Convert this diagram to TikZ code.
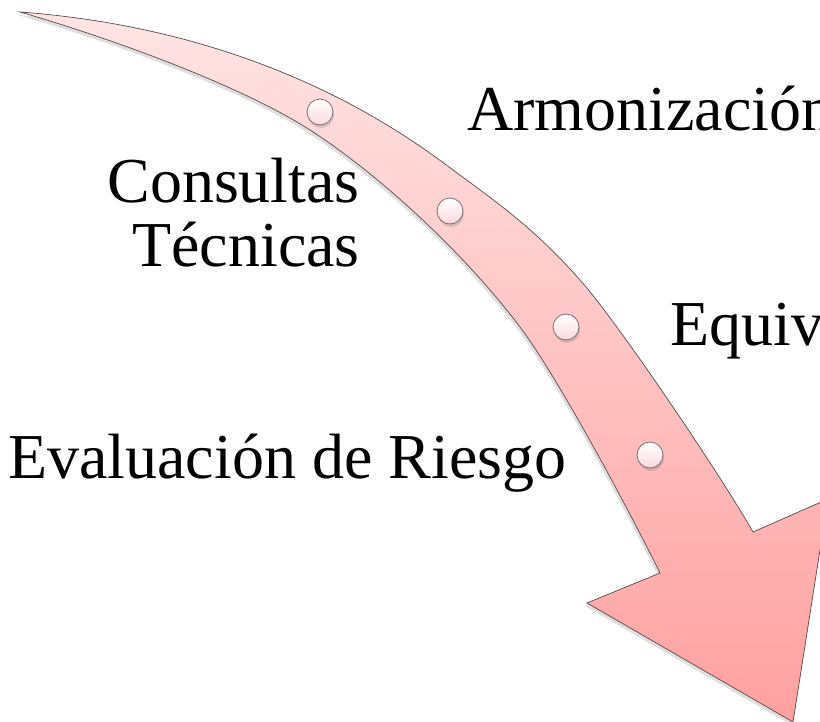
\documentclass[tikz,border=0pt]{standalone}
\usepackage{fontspec}
\setmainfont{Liberation Serif}
\usetikzlibrary{shadows}
\definecolor{arrtop}{HTML}{FFE4E4}
\definecolor{arrbot}{HTML}{FFA0A0}
\definecolor{edgegrey}{HTML}{5A4A4A}
\definecolor{dotbot}{HTML}{FBD9DE}
\tikzset{
  arrowshape/.style={draw=edgegrey, line width=0.7pt, top color=arrtop, bottom color=arrbot,
    drop shadow={opacity=0.25, shadow xshift=-2pt, shadow yshift=-3pt}},
  dot/.style={circle, minimum size=26pt, inner sep=0pt, draw=edgegrey!80, line width=0.8pt,
    top color=white, bottom color=dotbot,
    drop shadow={opacity=0.3, shadow xshift=1pt, shadow yshift=-3pt}},
  lbl/.style={inner sep=0pt, font=\fontsize{64}{64}\selectfont, text=black}
}
\begin{document}
\begin{tikzpicture}[x=1pt,y=-1pt]
\useasboundingbox[fill=white] (0,0) rectangle (820,721);
\begin{scope}
\clip (0,0) rectangle (820,721);
\path[arrowshape] (20,12)
  .. controls (260,30) and (400,130) .. (453,170)
  .. controls (498,203) and (535,229) .. (580,280)
  .. controls (620,325) and (725,482) .. (753,532)
  -- (828,499) -- (793,722) -- (587,603) -- (660,573)
  .. controls (635,522) and (560,380) .. (520,327)
  .. controls (465,254) and (380,175) .. (310,130)
  .. controls (240,85) and (110,38) .. (20,12) -- cycle;
\end{scope}
\node[dot] (c1) at (320,112) {};
\node[dot] (c2) at (450,211) {};
\node[dot] (c3) at (566,327) {};
\node[dot] (c4) at (650,455) {};
\node[lbl, anchor=base west] (arm) at (467,130) {Armonización};
\node[lbl, anchor=base east, align=right] (con) at (360,266) {Consultas\\Técnicas};
\node[lbl, anchor=base west] (equ) at (670,345) {Equiv};
\node[lbl, anchor=base west] (eva) at (8,478) {Evaluación de Riesgo};
\end{tikzpicture}
\end{document}
